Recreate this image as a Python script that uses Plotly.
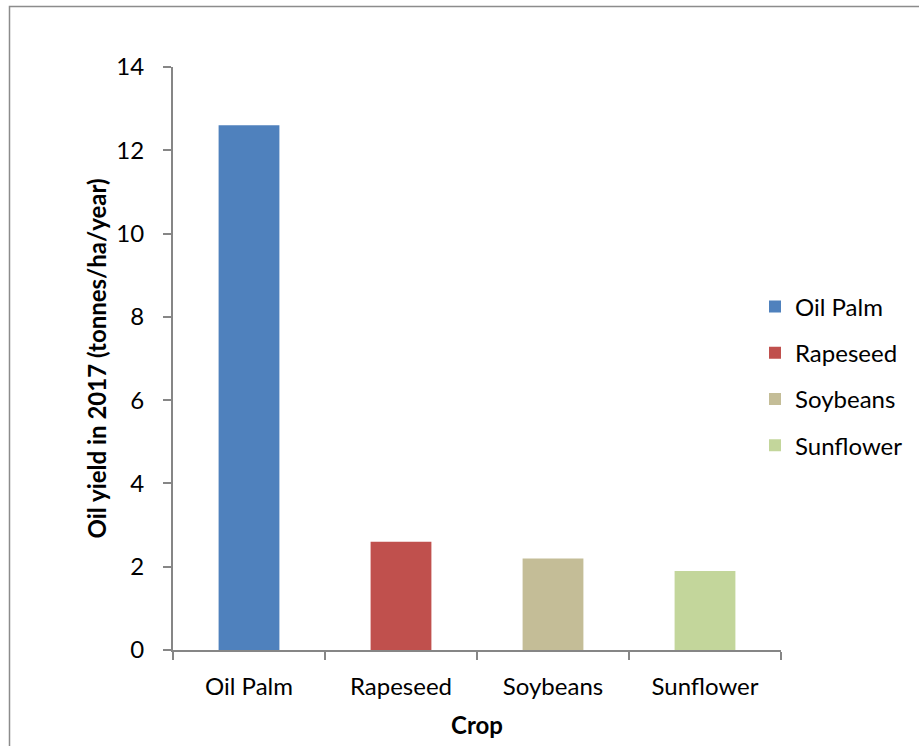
import plotly.graph_objects as go

# Oil yield per crop, 2017 (tonnes/ha/year)
crops = ["Oil Palm", "Rapeseed", "Soybeans", "Sunflower"]
yields = [12.6, 2.6, 2.2, 1.9]
colors = ["#4F81BD", "#C0504D", "#C4BD97", "#C3D69B"]
y_ticks = [0, 2, 4, 6, 8, 10, 12, 14]

FONT = "Lato, Calibri, sans-serif"
FS = 24
AXIS_GREY = "#868686"

fig = go.Figure()
for crop, val, col in zip(crops, yields, colors):
    fig.add_trace(go.Bar(
        x=[crop], y=[val], name=crop,
        marker=dict(color=col, line=dict(width=0)),
        width=0.4, legendgroup=crop,
    ))

W, H = 919, 746
ml, mr, mt, mb = 173, 138, 67, 96
pw, ph = W - ml - mr, H - mt - mb

def px_x(p):
    return (p - ml) / pw

def px_y(p):
    return (H - mb - p) / ph

fig.update_layout(
    width=W, height=H,
    margin=dict(l=ml, r=mr, t=mt, b=mb, pad=0, autoexpand=False),
    paper_bgcolor="white", plot_bgcolor="white",
    barmode="overlay",
    font=dict(family=FONT, size=FS, color="black"),
    showlegend=True,
    legend=dict(
        x=px_x(755), y=px_y(376), xanchor="left", yanchor="middle",
        font=dict(family=FONT, size=FS, color="black"),
        tracegroupgap=12, itemwidth=30, bgcolor="rgba(0,0,0,0)",
    ),
    xaxis=dict(
        type="category", categoryorder="array", categoryarray=crops,
        showline=True, linecolor=AXIS_GREY, linewidth=2,
        ticks="outside", tickson="boundaries", ticklen=8, tickcolor=AXIS_GREY, tickwidth=2,
        showgrid=False, zeroline=False,
        tickfont=dict(family=FONT, size=FS, color="black"),
        ticklabelstandoff=14,
        title=dict(text="<b>Crop</b>", font=dict(family=FONT, size=FS, color="black"), standoff=18),
    ),
    yaxis=dict(
        range=[0, 14], tickvals=y_ticks,
        showline=True, linecolor=AXIS_GREY, linewidth=2,
        ticks="outside", ticklen=8, tickcolor=AXIS_GREY, tickwidth=2,
        showgrid=False, zeroline=False,
        tickfont=dict(family=FONT, size=FS, color="black"),
        ticklabelstandoff=14,
        title=dict(text="<b>Oil yield in 2017 (tonnes/ha/year)</b>",
                   font=dict(family=FONT, size=FS, color="black"), standoff=3),
    ),
    shapes=[dict(
        type="rect", xref="paper", yref="paper",
        x0=px_x(9.5), x1=px_x(930), y0=px_y(6.5), y1=px_y(760),
        line=dict(color="#8C8C8C", width=1.5), fillcolor="rgba(0,0,0,0)", layer="below",
    )],
)

fig.write_html("out.html")
